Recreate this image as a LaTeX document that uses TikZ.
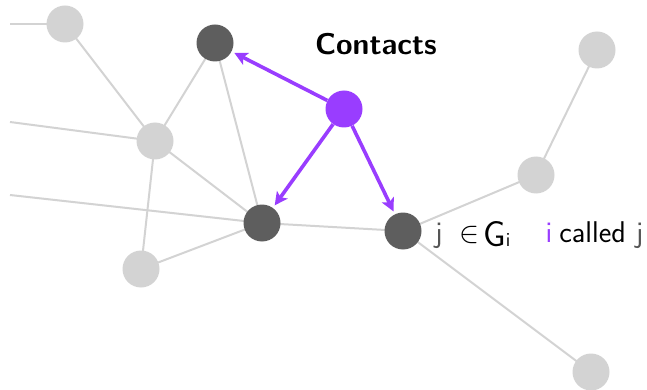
\RequirePackage{fix-cm}
\documentclass[tikz,border=0pt]{standalone}
\usepackage{fontspec}
\usetikzlibrary{arrows.meta}
\definecolor{lightnode}{RGB}{211,211,211}
\definecolor{darknode}{RGB}{94,94,94}
\definecolor{callpurple}{RGB}{153,61,255}
\definecolor{jgray}{RGB}{85,85,85}
\tikzset{
  lnode/.style={circle,fill=lightnode,minimum size=37pt,inner sep=0pt},
  dnode/.style={circle,fill=darknode,minimum size=37pt,inner sep=0pt},
  pnode/.style={circle,fill=callpurple,minimum size=37pt,inner sep=0pt},
  edge/.style={draw=lightnode,line width=2pt},
  callarrow/.style={draw=callpurple,line width=3.6pt,-{Stealth[length=13pt,width=13pt,inset=3pt]},shorten >=3pt},
  lbl/.style={anchor=base west,inner sep=0pt,font=\fontsize{30}{36}\selectfont\sffamily},
}
\begin{document}
\begin{tikzpicture}[x=1pt,y=-1pt]
\useasboundingbox (0,0) rectangle (647,390);
% coordinates
\coordinate (lA) at (10,24);
\coordinate (lC) at (10,122);
\coordinate (lD) at (10,195);
\coordinate (cA) at (65,24);
\coordinate (cB) at (215,43);
\coordinate (cC) at (155,141);
\coordinate (cP) at (344,109);
\coordinate (cD) at (262,223);
\coordinate (cE) at (141,269);
\coordinate (cF) at (403,231);
\coordinate (cG) at (536,175);
\coordinate (cH) at (597,50);
\coordinate (cI) at (591,372);
% edges
\draw[edge] (lA) -- (cA);
\draw[edge] (cA) -- (cC);
\draw[edge] (cC) -- (cB);
\draw[edge] (cB) -- (cD);
\draw[edge] (lC) -- (cC);
\draw[edge] (cC) -- (cE);
\draw[edge] (cC) -- (cD);
\draw[edge] (lD) -- (cD);
\draw[edge] (cE) -- (cD);
\draw[edge] (cD) -- (cF);
\draw[edge] (cF) -- (cG);
\draw[edge] (cG) -- (cH);
\draw[edge] (cF) -- (cI);
% nodes
\node[lnode] (A) at (cA) {};
\node[dnode] (B) at (cB) {};
\node[lnode] (C) at (cC) {};
\node[dnode] (D) at (cD) {};
\node[lnode] (E) at (cE) {};
\node[dnode] (F) at (cF) {};
\node[lnode] (G) at (cG) {};
\node[lnode] (H) at (cH) {};
\node[lnode] (I) at (cI) {};
\node[pnode] (P) at (cP) {};
% arrows
\draw[callarrow] (P) -- (B);
\draw[callarrow] (P) -- (D);
\draw[callarrow] (P) -- (F);
% labels
\node[anchor=base,inner sep=0pt,font=\fontsize{30}{36}\selectfont\sffamily\bfseries] (title) at (376,55) {Contacts};
\node[lbl] (member) at (435,242) {\textcolor{jgray}{j}\hspace{16.5pt}$\in$\hspace{4pt}\raisebox{-4.5pt}{{\fontsize{36}{40}\selectfont G}{\fontsize{20}{22}\selectfont i}}};
\node[lbl] (called) at (545.5,242) {\textcolor{callpurple}{i}\hspace{7pt}called\hspace{10pt}\textcolor{jgray}{j}};
\end{tikzpicture}
\end{document}
